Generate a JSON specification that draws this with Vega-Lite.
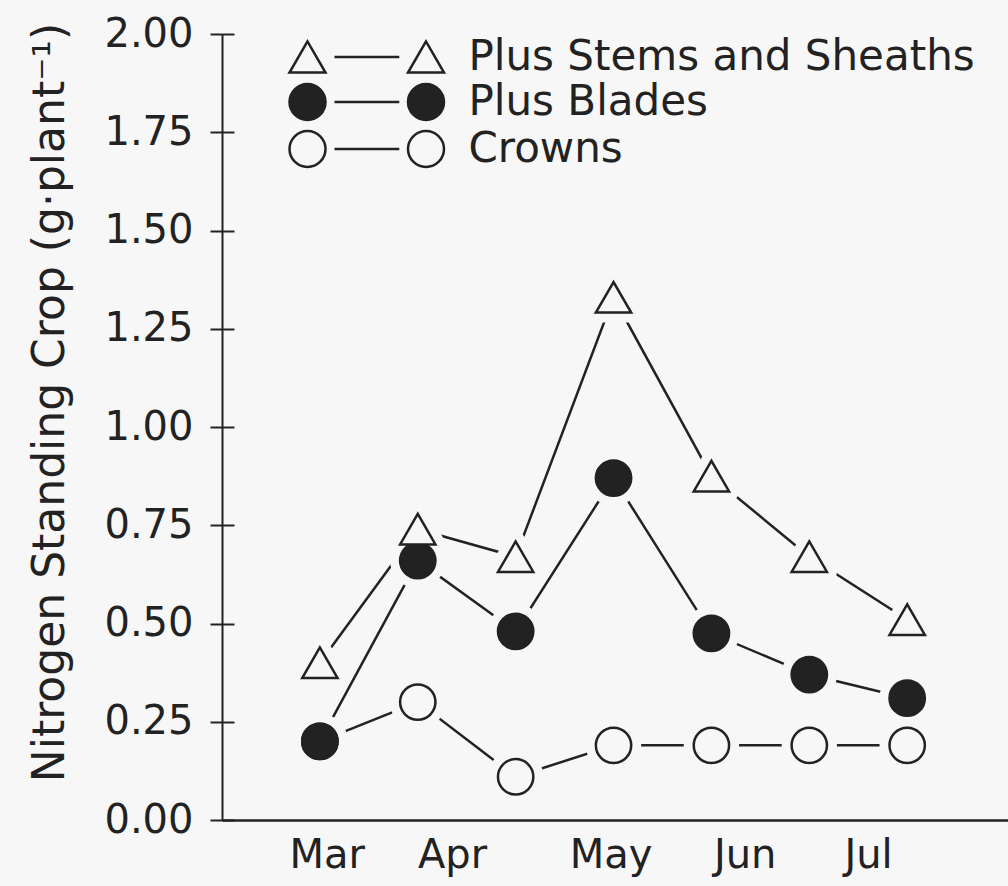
{
  "$schema": "https://vega.github.io/schema/vega-lite/v6.json",
  "width": 786,
  "height": 786,
  "autosize": {"type": "none"},
  "padding": {"left": 222, "top": 34, "right": 0, "bottom": 66},
  "background": "#f7f7f7",
  "config": {"view": {"stroke": null}, "font": "DejaVu Sans"},
  "data": {
    "values": [
      {"t": 1, "series": "Crowns", "n": 0.20},
      {"t": 2, "series": "Crowns", "n": 0.30},
      {"t": 3, "series": "Crowns", "n": 0.11},
      {"t": 4, "series": "Crowns", "n": 0.19},
      {"t": 5, "series": "Crowns", "n": 0.19},
      {"t": 6, "series": "Crowns", "n": 0.19},
      {"t": 7, "series": "Crowns", "n": 0.19},
      {"t": 1, "series": "Plus Blades", "n": 0.20},
      {"t": 2, "series": "Plus Blades", "n": 0.66},
      {"t": 3, "series": "Plus Blades", "n": 0.48},
      {"t": 4, "series": "Plus Blades", "n": 0.87},
      {"t": 5, "series": "Plus Blades", "n": 0.475},
      {"t": 6, "series": "Plus Blades", "n": 0.37},
      {"t": 7, "series": "Plus Blades", "n": 0.31},
      {"t": 1, "series": "Plus Stems and Sheaths", "n": 0.40},
      {"t": 2, "series": "Plus Stems and Sheaths", "n": 0.74},
      {"t": 3, "series": "Plus Stems and Sheaths", "n": 0.67},
      {"t": 4, "series": "Plus Stems and Sheaths", "n": 1.33},
      {"t": 5, "series": "Plus Stems and Sheaths", "n": 0.875},
      {"t": 6, "series": "Plus Stems and Sheaths", "n": 0.67},
      {"t": 7, "series": "Plus Stems and Sheaths", "n": 0.51}
    ]
  },
  "resolve": {
    "axis": {"y": "independent"},
    "scale": {"shape": "independent", "fill": "independent", "stroke": "independent"},
    "legend": {"shape": "independent", "fill": "independent", "stroke": "independent"}
  },
  "encoding": {
    "x": {
      "field": "t",
      "type": "quantitative",
      "scale": {"domain": [0, 8.03], "nice": false, "zero": false},
      "axis": {
        "title": null,
        "values": [1.07, 2.35, 3.97, 5.34, 6.6],
        "labelExpr": "datum.value < 1.5 ? 'Mar' : datum.value < 3 ? 'Apr' : datum.value < 4.5 ? 'May' : datum.value < 6 ? 'Jun' : 'Jul'",
        "ticks": false,
        "grid": false,
        "labelFont": "DejaVu Sans",
        "labelFontSize": 40,
        "labelColor": "#222",
        "labelPadding": 15,
        "labelFlush": false,
        "labelOverlap": false,
        "domainColor": "#222",
        "domainWidth": 2.5
      }
    }
  },
  "layer": [
    {
      "mark": {"type": "line", "stroke": "#222", "strokeWidth": 2.5},
      "encoding": {
        "y": {
          "field": "n",
          "type": "quantitative",
          "scale": {"domain": [0, 2], "nice": false, "zero": true},
          "axis": {
            "orient": "left",
            "values": [0, 0.25, 0.5, 0.75, 1, 1.25, 1.5, 1.75, 2],
            "format": ".2f",
            "title": "Nitrogen Standing Crop (g·plant⁻¹)",
            "titleFont": "DejaVu Sans",
            "titleFontSize": 44,
            "titleFontWeight": "normal",
            "titleColor": "#222",
            "titleX": -159,
            "titleY": 368,
            "titleAngle": 270,
            "titleAlign": "center",
            "titleBaseline": "alphabetic",
            "labelFont": "DejaVu Sans",
            "labelFontSize": 40,
            "labelColor": "#222",
            "labelPadding": 17,
            "labelFlush": false,
            "labelOverlap": false,
            "tickSize": 12,
            "tickWidth": 2,
            "tickColor": "#222",
            "domainColor": "#222",
            "domainWidth": 2,
            "grid": false
          }
        },
        "detail": {"field": "series"}
      }
    },
    {
      "mark": {"type": "point", "filled": true, "fill": "#f7f7f7", "stroke": "#f7f7f7", "strokeWidth": 20, "strokeJoin": "round", "size": 1250, "opacity": 1},
      "encoding": {
        "y": {
          "field": "n",
          "type": "quantitative",
          "axis": {
            "orient": "left",
            "values": [0, 0.25, 0.5, 0.75, 1, 1.25, 1.5, 1.75, 2],
            "title": null,
            "labels": false,
            "domain": false,
            "grid": false,
            "tickSize": -12,
            "tickWidth": 2,
            "tickColor": "#222"
          }
        },
        "shape": {
          "field": "series",
          "scale": {"domain": ["Plus Stems and Sheaths", "Plus Blades", "Crowns"], "range": ["triangle-up", "circle", "circle"]},
          "legend": null
        }
      }
    },
    {
      "mark": {"type": "point", "filled": true, "stroke": "#222", "strokeWidth": 2.5, "size": 1250, "opacity": 1},
      "encoding": {
        "y": {"field": "n", "type": "quantitative", "axis": null},
        "fill": {
          "condition": {"test": "datum.series === 'Plus Blades'", "value": "#222"},
          "value": "#f7f7f7"
        },
        "shape": {
          "field": "series",
          "scale": {"domain": ["Plus Stems and Sheaths", "Plus Blades", "Crowns"], "range": ["triangle-up", "circle", "circle"]},
          "legend": null
        }
      }
    },
    {
      "transform": [{"filter": "false"}],
      "mark": {"type": "point", "filled": true, "strokeWidth": 2.5, "size": 1296, "opacity": 1},
      "encoding": {
        "y": {"field": "n", "type": "quantitative", "axis": null},
        "shape": {
          "field": "series",
          "scale": {
            "domain": ["Plus Stems and Sheaths", "Plus Blades", "Crowns"],
            "range": [
              "M0,-0.866L-1,0.866L1,0.866Z M6.583,-0.866L5.583,0.866L7.583,0.866Z M1.5,0L5.1,0",
              "M1,0A1,1,0,1,1,-1,0A1,1,0,1,1,1,0Z M7.583,0A1,1,0,1,1,5.583,0A1,1,0,1,1,7.583,0Z M1.5,0L5.1,0",
              "M1,0A1,1,0,1,1,-1,0A1,1,0,1,1,1,0Z M7.583,0A1,1,0,1,1,5.583,0A1,1,0,1,1,7.583,0Z M1.5,0L5.1,0"
            ]
          },
          "legend": {
            "orient": "none",
            "legendX": 64.5,
            "legendY": 2,
            "title": null,
            "padding": 0,
            "labelFont": "DejaVu Sans",
            "labelFontSize": 42,
            "labelColor": "#222",
            "labelLimit": 1000,
            "labelOffset": 140,
            "rowPadding": 1,
            "symbolSize": 1296,
            "symbolStrokeWidth": 2.5,
            "symbolOpacity": 1
          }
        },
        "fill": {
          "field": "series",
          "scale": {
            "domain": ["Plus Stems and Sheaths", "Plus Blades", "Crowns"],
            "range": ["#f7f7f7", "#222", "#f7f7f7"]
          },
          "legend": {
            "orient": "none",
            "legendX": 64.5,
            "legendY": 2,
            "title": null,
            "padding": 0,
            "labelFont": "DejaVu Sans",
            "labelFontSize": 42,
            "labelColor": "#222",
            "labelLimit": 1000,
            "labelOffset": 140,
            "rowPadding": 1,
            "symbolSize": 1296,
            "symbolStrokeWidth": 2.5,
            "symbolOpacity": 1
          }
        },
        "stroke": {
          "field": "series",
          "scale": {
            "domain": ["Plus Stems and Sheaths", "Plus Blades", "Crowns"],
            "range": ["#222", "#222", "#222"]
          },
          "legend": {
            "orient": "none",
            "legendX": 64.5,
            "legendY": 2,
            "title": null,
            "padding": 0,
            "labelFont": "DejaVu Sans",
            "labelFontSize": 42,
            "labelColor": "#222",
            "labelLimit": 1000,
            "labelOffset": 140,
            "rowPadding": 1,
            "symbolSize": 1296,
            "symbolStrokeWidth": 2.5,
            "symbolOpacity": 1
          }
        }
      }
    }
  ]
}
